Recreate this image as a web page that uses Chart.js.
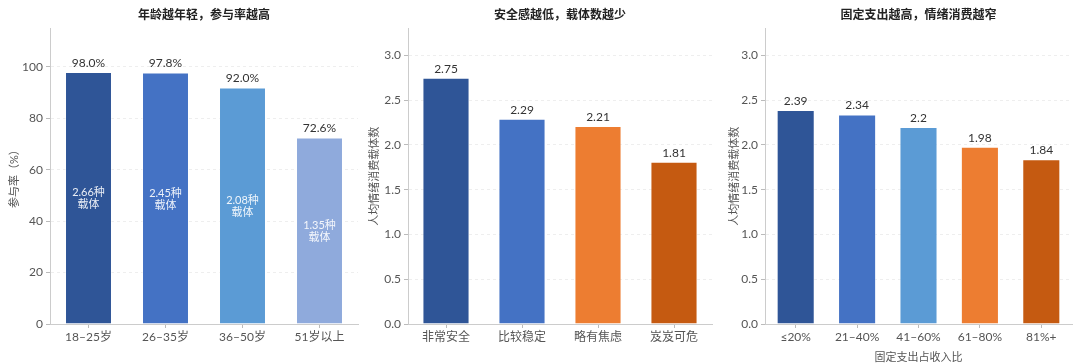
<!DOCTYPE html>
<html>
<head>
<meta charset="utf-8">
<script src="https://cdn.jsdelivr.net/npm/chart.js@4/dist/chart.umd.min.js"></script>
<style>
  html, body { margin: 0; padding: 0; background: #fff; }
  #wrap { position: relative; width: 1080px; height: 364px; }
  .box { position: absolute; top: 0; width: 360px; height: 364px; }
</style>
</head>
<body>
<div id="wrap">
  <div class="box" style="left:0"><canvas id="c1"></canvas></div>
  <div class="box" style="left:360px"><canvas id="c2"></canvas></div>
  <div class="box" style="left:720px"><canvas id="c3"></canvas></div>
</div>
<script>
// chart 1: participation by age
const ageLabels = ['18–25岁', '26–35岁', '36–50岁', '51岁以上'];
const ageRate = [98.0, 97.8, 92.0, 72.6];
const ageCarriers = [2.66, 2.45, 2.08, 1.35];
const ageTicks = [0, 20, 40, 60, 80, 100];

// chart 2: carriers by sense of security
const safetyLabels = ['非常安全', '比较稳定', '略有焦虑', '岌岌可危'];
const safetyValues = [2.75, 2.29, 2.21, 1.81];

// chart 3: carriers by fixed-expense share
const expenseLabels = ['≤20%', '21–40%', '41–60%', '61–80%', '81%+'];
const expenseValues = [2.39, 2.34, 2.2, 1.98, 1.84];

const countTicks = [0, 0.5, 1.0, 1.5, 2.0, 2.5, 3.0];

const FONT = '"Lato", "Noto Sans CJK SC", sans-serif';
Chart.defaults.font.family = FONT;
Chart.defaults.color = '#555';

// draws value labels above bars, plus optional inner labels
const barText = {
  id: 'barText',
  afterDatasetsDraw(chart, args, opts) {
    const ctx = chart.ctx;
    const meta = chart.getDatasetMeta(0);
    const data = chart.data.datasets[0].data;
    ctx.save();
    ctx.textAlign = 'center';
    meta.data.forEach((bar, i) => {
      ctx.fillStyle = '#333';
      ctx.font = '12px ' + FONT;
      ctx.textBaseline = 'bottom';
      ctx.fillText(opts.fmt(data[i]), bar.x, bar.y - 3);
      if (opts.inner) {
        const mid = (bar.y + bar.base) / 2;
        ctx.fillStyle = 'rgba(255,255,255,0.9)';
        ctx.font = '11px ' + FONT;
        ctx.textBaseline = 'middle';
        ctx.fillText(opts.inner[i].toFixed(2) + '种', bar.x, mid - 5);
        ctx.fillText('载体', bar.x, mid + 7);
      }
    });
    ctx.restore();
  }
};

function makeChart(id, o) {
  return new Chart(document.getElementById(id), {
    type: 'bar',
    data: {
      labels: o.labels,
      datasets: [{
        data: o.values,
        backgroundColor: o.colors,
        borderColor: 'rgba(255,255,255,0.5)',
        borderWidth: 1,
        categoryPercentage: 1,
        barPercentage: o.barPct
      }]
    },
    options: {
      responsive: false,
      animation: false,
      devicePixelRatio: 1,
      layout: { padding: { left: 0, right: o.right, top: 0, bottom: 0 } },
      plugins: {
        legend: { display: false },
        tooltip: { enabled: false },
        title: {
          display: true,
          text: o.title,
          fullSize: false,
          color: '#222',
          font: { size: 12, weight: 'bold', family: FONT },
          padding: { top: 8, bottom: 6 }
        },
        barText: { fmt: o.fmt, inner: o.inner }
      },
      scales: {
        x: {
          grid: { offset: false, drawOnChartArea: false, tickLength: 4, tickColor: '#bbb' },
          border: { color: '#ccc' },
          ticks: { color: '#555', font: { size: 12 }, padding: 2 },
          title: {
            display: !!o.xTitle,
            text: o.xTitle || '',
            color: '#555',
            font: { size: 11 },
            padding: { top: 0, bottom: 0 }
          },
          afterFit(s) { s.height = 40; }
        },
        y: {
          min: 0,
          max: o.max,
          afterBuildTicks(s) { s.ticks = o.ticks.map(v => ({ value: v })); },
          grid: { color: '#eeeeee', tickLength: 4, tickColor: '#bbb' },
          border: { color: '#ccc', dash: [3, 3] },
          ticks: {
            color: '#555',
            font: { size: 12 },
            padding: 3,
            callback: o.tickFmt
          },
          title: {
            display: true,
            text: o.yTitle,
            color: '#555',
            font: { size: 11 },
            padding: { top: 8, bottom: 0 }
          },
          afterFit(s) { s.width = o.yWidth; }
        }
      }
    },
    plugins: [barText]
  });
}

function sizeCanvas(id) {
  const c = document.getElementById(id);
  c.width = 360; c.height = 364;
  c.style.width = '360px'; c.style.height = '364px';
}
['c1', 'c2', 'c3'].forEach(sizeCanvas);

makeChart('c1', {
  labels: ageLabels,
  values: ageRate,
  colors: ['#2F5597', '#4472C4', '#5B9BD5', '#8FAADC'],
  title: '年龄越年轻，参与率越高',
  yTitle: '参与率（%）',
  max: 115,
  ticks: ageTicks,
  tickFmt: v => String(v),
  fmt: v => v.toFixed(1) + '%',
  inner: ageCarriers,
  barPct: 0.61,
  yWidth: 50,
  right: 2
});

makeChart('c2', {
  labels: safetyLabels,
  values: safetyValues,
  colors: ['#2F5597', '#4472C4', '#ED7D31', '#C55A11'],
  title: '安全感越低，载体数越少',
  yTitle: '人均情绪消费载体数',
  max: 3.3,
  ticks: countTicks,
  tickFmt: v => v.toFixed(1),
  fmt: v => String(v),
  barPct: 0.62,
  yWidth: 48,
  right: 8
});

makeChart('c3', {
  labels: expenseLabels,
  values: expenseValues,
  colors: ['#2F5597', '#4472C4', '#5B9BD5', '#ED7D31', '#C55A11'],
  title: '固定支出越高，情绪消费越窄',
  yTitle: '人均情绪消费载体数',
  xTitle: '固定支出占收入比',
  max: 3.3,
  ticks: countTicks,
  tickFmt: v => v.toFixed(1),
  fmt: v => String(v),
  barPct: 0.62,
  yWidth: 45,
  right: 8
});
</script>
</body>
</html>
